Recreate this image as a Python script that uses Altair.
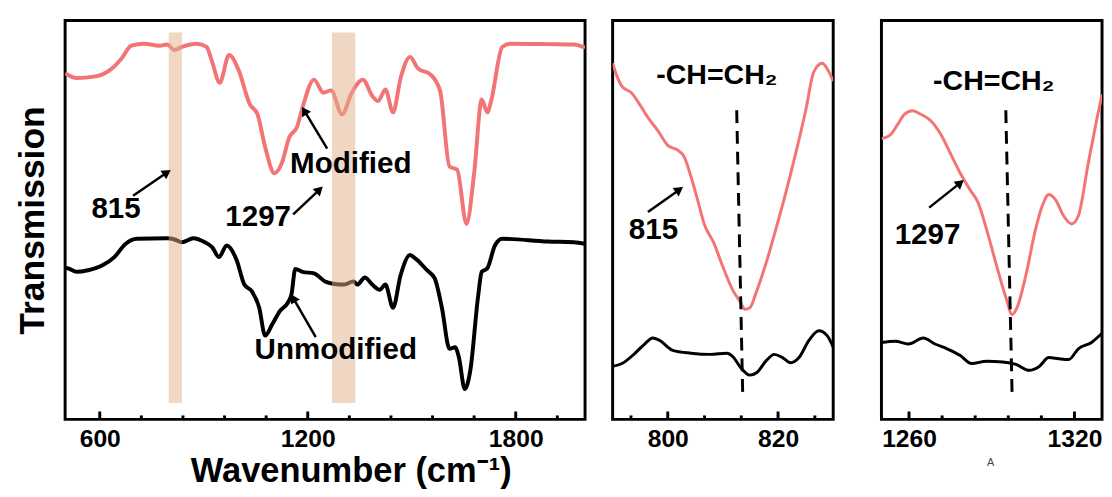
import math
import altair as alt
import pandas as pd

FONT = "Liberation Sans"
RED = "#f37474"
BAND = "#e0b088"

# ---------------- panel 1 : full spectrum ----------------
p1_mod_wn = [500, 533, 587, 631, 663, 691, 729, 772, 794, 816, 837, 881, 908, 924, 946, 973,
             1000, 1033, 1055, 1077, 1104, 1125, 1147, 1169, 1185, 1218, 1245, 1267, 1299, 1327,
             1359, 1386, 1403, 1424, 1446, 1468, 1495, 1517, 1555, 1582, 1609, 1631, 1658, 1680,
             1702, 1718, 1729, 1761, 1783, 1892, 1968, 2000]
p1_mod_t = [86.8, 85.6, 86.0, 87.7, 90.5, 93.7, 94.2, 93.7, 94.0, 92.6, 93.4, 94.2, 93.4, 89.7,
            84.4, 91.4, 87.7, 79.0, 76.5, 68.3, 61.7, 64.2, 70.8, 73.3, 78.2, 85.2, 81.9, 82.5,
            76.5, 81.9, 85.2, 81.1, 79.8, 82.7, 77.0, 85.6, 90.9, 88.1, 86.4, 82.3, 63.4, 62.6,
            49.0, 61.7, 80.2, 77.0, 79.8, 93.4, 94.2, 94.1, 94.0, 93.2]
p1_unm_wn = [500, 506, 533, 566, 609, 642, 674, 707, 794, 816, 837, 870, 903, 924, 944, 966,
             995, 1017, 1039, 1060, 1077, 1098, 1120, 1142, 1153, 1164, 1185, 1218, 1250, 1283,
             1305, 1332, 1343, 1365, 1386, 1408, 1424, 1446, 1468, 1495, 1511, 1544, 1566, 1587,
             1609, 1625, 1636, 1653, 1669, 1691, 1702, 1718, 1740, 1761, 1892, 1968, 2000]
p1_unm_t = [37.9, 37.9, 37.0, 37.4, 38.7, 40.7, 44.0, 45.3, 45.4, 45.1, 44.4, 45.4, 44.4, 43.2,
            40.7, 43.6, 39.9, 33.8, 32.1, 28.0, 21.0, 23.9, 27.2, 29.2, 31.3, 37.7, 37.0, 36.6,
            34.6, 33.9, 33.8, 34.6, 33.8, 35.6, 33.8, 32.5, 33.8, 28.0, 36.2, 41.2, 40.3, 37.4,
            35.4, 28.0, 17.7, 18.1, 15.6, 7.6, 12.3, 30.5, 37.0, 37.9, 43.6, 45.3, 44.6, 44.4, 44.0]
p1_major = [600, 1200, 1800]
p1_minor = [720, 840, 960, 1080, 1320, 1440, 1560, 1680, 1920]
band_lo = [799, 1270]
band_hi = [837, 1337]
band_bottom = [4.1, 4.1]
band_top = [97.0, 97.0]
p1_labels = ["Modified", "815", "1297", "Unmodified"]
p1_label_x = [1324, 647, 1057, 1281]
p1_label_y = [64.0, 52.6, 50.6, 17.3]
p1_arrow_tx = [1256, 696, 1158, 1223]
p1_arrow_ty = [67.9, 56.1, 51.4, 20.6]
p1_arrow_hx = [1190, 794, 1234, 1158]
p1_arrow_hy = [77.4, 61.9, 57.6, 30.4]

# ---------------- panel 2 : 790-830 ----------------
p2_mod_wn = [790.0, 790.8, 791.7, 793.4, 794.9, 796.4, 798.2, 800.0, 801.8, 803.0, 804.2, 805.4,
             806.6, 808.3, 810.1, 811.9, 813.1, 814.0, 814.9, 816.1, 817.9, 819.6, 821.4, 823.2,
             825.0, 826.5, 828.0, 829.2, 830.0]
p2_mod_t = [89.3, 86.0, 83.5, 81.9, 79.0, 75.7, 72.4, 68.7, 67.5, 65.8, 60.9, 55.1, 49.0, 44.4,
            37.9, 32.1, 29.6, 27.6, 28.0, 32.1, 39.5, 47.7, 56.8, 66.7, 77.4, 87.2, 89.3, 87.2, 84.8]
p2_unm_wn = [790.0, 791.7, 794.0, 795.8, 797.3, 798.5, 800.9, 804.2, 807.7, 810.7, 811.9, 813.1,
             814.9, 816.1, 817.9, 819.3, 820.8, 822.3, 823.8, 825.6, 827.4, 828.9, 830.0]
p2_unm_t = [13.3, 14.0, 16.5, 18.9, 20.4, 19.8, 17.3, 16.6, 16.3, 16.6, 15.6, 13.2, 11.1, 11.7,
            14.8, 16.3, 15.5, 14.2, 15.5, 19.8, 22.2, 21.0, 18.1]
p2_major = [800, 820]
p2_minor = [793.33, 806.67, 813.33, 826.67]
p2_dash_x = [812.5]
p2_dash_x2 = [813.6]
p2_label_x = [808.9, 797.4]
p2_label_y = [86.4, 47.4]
p2_labels = ["-CH=CH\u2082", "815"]
p2_arrow_tx = [796.4]
p2_arrow_ty = [52.0]
p2_arrow_hx = [802.1]
p2_arrow_hy = [57.6]

# ---------------- panel 3 : 1250-1330 ----------------
p3_mod_wn = [1250.0, 1253.0, 1256.0, 1258.3, 1261.3, 1264.3, 1267.9, 1271.4, 1275.0, 1278.6,
             1282.1, 1285.1, 1288.1, 1291.7, 1295.2, 1297.4, 1299.4, 1302.4, 1305.9, 1308.3,
             1310.7, 1313.1, 1316.1, 1319.0, 1321.4, 1325.0, 1328.0, 1330.0]
p3_mod_t = [70.4, 71.2, 74.1, 76.5, 77.4, 76.5, 74.9, 71.6, 66.7, 61.7, 57.6, 54.3, 47.7, 38.7,
            30.4, 26.3, 28.4, 36.2, 47.7, 53.5, 56.4, 55.1, 51.0, 49.0, 51.0, 64.2, 74.9, 81.5]
p3_unm_wn = [1250.0, 1255.0, 1259.8, 1265.2, 1269.4, 1273.8, 1278.6, 1282.7, 1288.1, 1294.0,
             1298.8, 1303.6, 1307.1, 1310.7, 1314.3, 1317.9, 1321.4, 1326.2, 1330.0]
p3_unm_t = [19.3, 19.6, 18.9, 20.4, 18.9, 17.7, 16.0, 14.0, 14.6, 14.4, 13.8, 12.3, 13.2, 15.5,
            15.2, 15.0, 17.7, 19.3, 21.6]
p3_major = [1260, 1320]
p3_minor = [1272, 1284, 1296, 1308]
p3_dash_x = [1295.1]
p3_dash_x2 = [1297.4]
p3_label_x = [1290.7, 1266.7]
p3_label_y = [84.7, 46.3]
p3_labels = ["-CH=CH\u2082", "1297"]
p3_arrow_tx = [1267.3]
p3_arrow_ty = [53.1]
p3_arrow_hx = [1278.6]
p3_arrow_hy = [59.3]

dash_top = 77.5
dash_bottom = 5.7
Y_DOM = [0, 100]
H = 405
MAJOR_LEN = 8    # px
MINOR_LEN = 4    # px


def X(field, sc):
    return alt.X(field, scale=sc, axis=None)


def Y(field, sc):
    return alt.Y(field, scale=sc, axis=None)


def arrow_layers(xs, ys, xe, ye, W, xdom, xscale, yscale):
    sx = W / (xdom[1] - xdom[0])
    sy = H / (Y_DOM[1] - Y_DOM[0])
    ang = []
    for a, b, c, d in zip(xs, ys, xe, ye):
        dx = (c - a) * sx
        dy = -(d - b) * sy
        ang.append(math.degrees(math.atan2(dx, -dy)) % 360)
    df = pd.DataFrame({"tx": xs, "ty": ys, "hx": xe, "hy": ye, "ang": ang})
    shaft = alt.Chart(df).mark_rule(color="black", strokeWidth=2.5).encode(
        x=X("tx:Q", xscale), y=Y("ty:Q", yscale), x2="hx:Q", y2="hy:Q")
    head = alt.Chart(df).mark_point(shape="triangle-up", filled=True, size=110,
                                    color="black", opacity=1).encode(
        x=X("hx:Q", xscale), y=Y("hy:Q", yscale),
        angle=alt.Angle("ang:Q", scale=None))
    return [shaft, head]


def tick_layer(major, minor, xscale, yscale):
    per_unit = (Y_DOM[1] - Y_DOM[0]) / H
    df = pd.DataFrame({
        "wn": major + minor,
        "y0": [Y_DOM[0]] * (len(major) + len(minor)),
        "y1": [Y_DOM[0] + MAJOR_LEN * per_unit] * len(major)
              + [Y_DOM[0] + MINOR_LEN * per_unit] * len(minor),
    })
    return alt.Chart(df).mark_rule(color="black", strokeWidth=3).encode(
        x=X("wn:Q", xscale), y=Y("y0:Q", yscale), y2="y1:Q")


def panel(xdom, mod_wn, mod_t, unm_wn, unm_t, major, minor, lw, xtitle, ytitle):
    df = pd.DataFrame({
        "wn": mod_wn + unm_wn,
        "T": mod_t + unm_t,
        "s": ["Modified"] * len(mod_wn) + ["Unmodified"] * len(unm_wn),
    })
    xscale = alt.Scale(domain=xdom, nice=False, zero=False)
    yscale = alt.Scale(domain=Y_DOM, nice=False, zero=False)
    xaxis_kw = dict(values=major, labels=True, ticks=False, labelPadding=8,
                    orient="bottom", format="d")
    if xtitle:
        xaxis_kw.update(title=xtitle, titleFontSize=35, titlePadding=2, titleX=290)
    else:
        xaxis_kw.update(title="")
    if ytitle:
        yaxis = alt.Axis(title=ytitle, labels=False, ticks=False, domain=False,
                         titleFontSize=36, titlePadding=14, grid=False)
    else:
        yaxis = None
    lines = alt.Chart(df).mark_line(strokeWidth=lw, interpolate="monotone", clip=True).encode(
        x=alt.X("wn:Q", scale=xscale, axis=alt.Axis(**xaxis_kw)),
        y=alt.Y("T:Q", scale=yscale, axis=yaxis),
        color=alt.Color("s:N", scale=alt.Scale(domain=["Modified", "Unmodified"],
                                               range=[RED, "black"]), legend=None),
    )
    return lines, tick_layer(major, minor, xscale, yscale), xscale, yscale


def texts(xs, ys, labels, size, xscale, yscale):
    df = pd.DataFrame({"x": xs, "y": ys, "t": labels})
    return alt.Chart(df).mark_text(font=FONT, fontWeight="bold", fontSize=size,
                                   color="black").encode(
        x=X("x:Q", xscale), y=Y("y:Q", yscale), text="t:N")


def dashed(x, x2, xscale, yscale):
    df = pd.DataFrame({"x": x, "x2": x2, "y": [dash_top], "y2": [dash_bottom]})
    return alt.Chart(df).mark_rule(color="black", strokeWidth=3, strokeDash=[13, 8]).encode(
        x=X("x:Q", xscale), x2="x2:Q", y=Y("y:Q", yscale), y2="y2:Q")


W1, W2, W3 = 528, 224, 224
X1, X2, X3 = [500, 2000], [790, 830], [1250, 1330]

# ---- panel 1 ----
l1, k1, xs1, ys1 = panel(X1, p1_mod_wn, p1_mod_t, p1_unm_wn, p1_unm_t, p1_major, p1_minor,
                         4, "Wavenumber (cm\u207b\u00b9)", "Transmission")
bands = alt.Chart(pd.DataFrame({"lo": band_lo, "hi": band_hi, "b": band_bottom, "t": band_top})
                  ).mark_rect(color=BAND, opacity=0.5).encode(
    x=X("lo:Q", xs1), x2="hi:Q", y=Y("b:Q", ys1), y2="t:Q")
t1 = texts(p1_label_x, p1_label_y, p1_labels, 30, xs1, ys1)
a1 = arrow_layers(p1_arrow_tx, p1_arrow_ty, p1_arrow_hx, p1_arrow_hy, W1, X1, xs1, ys1)
c1 = alt.layer(l1, k1, bands, t1, *a1).resolve_axis(
    x="independent", y="independent").properties(width=W1, height=H)

# ---- panel 2 ----
l2, k2, xs2, ys2 = panel(X2, p2_mod_wn, p2_mod_t, p2_unm_wn, p2_unm_t, p2_major, p2_minor,
                         3, "", "")
t2a = texts(p2_label_x[:1], p2_label_y[:1], p2_labels[:1], 29, xs2, ys2)
t2b = texts(p2_label_x[1:], p2_label_y[1:], p2_labels[1:], 30, xs2, ys2)
a2 = arrow_layers(p2_arrow_tx, p2_arrow_ty, p2_arrow_hx, p2_arrow_hy, W2, X2, xs2, ys2)
c2 = alt.layer(l2, k2, dashed(p2_dash_x, p2_dash_x2, xs2, ys2), t2a, t2b, *a2
               ).resolve_axis(x="independent", y="independent").properties(width=W2, height=H)

# ---- panel 3 ----
l3, k3, xs3, ys3 = panel(X3, p3_mod_wn, p3_mod_t, p3_unm_wn, p3_unm_t, p3_major, p3_minor,
                         3, "", "")
t3a = texts(p3_label_x[:1], p3_label_y[:1], p3_labels[:1], 29, xs3, ys3)
t3b = texts(p3_label_x[1:], p3_label_y[1:], p3_labels[1:], 30, xs3, ys3)
a3 = arrow_layers(p3_arrow_tx, p3_arrow_ty, p3_arrow_hx, p3_arrow_hy, W3, X3, xs3, ys3)
note = alt.Chart(pd.DataFrame({"x": [1289.6], "y": [-10.9], "t": ["A"]})).mark_text(
    font=FONT, fontSize=11, color="#444").encode(
    x=X("x:Q", xs3), y=Y("y:Q", ys3), text="t:N")
c3 = alt.layer(l3, k3, dashed(p3_dash_x, p3_dash_x2, xs3, ys3), t3a, t3b, *a3, note
               ).resolve_axis(x="independent", y="independent").properties(width=W3, height=H)

left = alt.hconcat(c1, c2, spacing=24)
chart = alt.hconcat(left, c3, spacing=45).properties(
    padding={"left": 5, "top": 7, "right": 0, "bottom": 0}
).configure_view(stroke="black", strokeWidth=3).configure_axis(
    domain=False, grid=False, labelFont=FONT,
    labelFontWeight="bold", labelFontSize=25, labelColor="black", titleFont=FONT,
    titleFontWeight="bold", titleColor="black"
)

chart.save("out.html", embed_options={"renderer": "svg", "actions": False})
